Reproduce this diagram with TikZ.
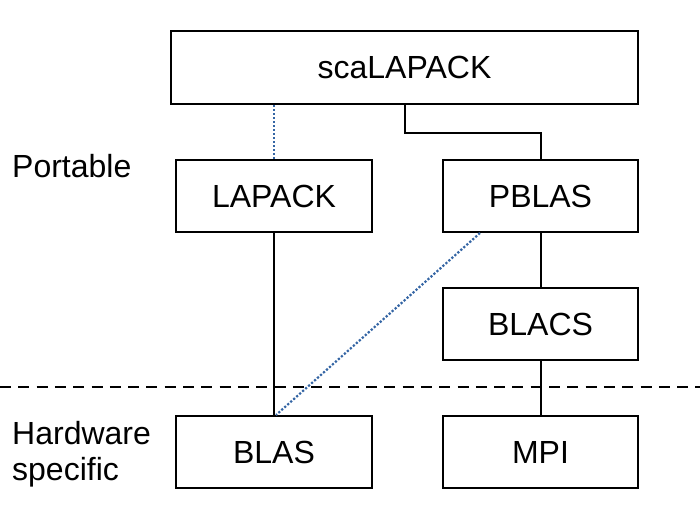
\documentclass[tikz,border=0pt]{standalone}
\usepackage{fontspec}
\setmainfont{Liberation Sans}
\definecolor{dotblue}{HTML}{3465A4}
\begin{document}
\begin{tikzpicture}[x=1pt,y=-1pt,
  box/.style={draw=black,line width=2pt,fill=white,font=\fontsize{32}{36}\selectfont,inner sep=0pt},
  lbl/.style={font=\fontsize{32}{36}\selectfont,inner sep=0pt,anchor=base west},
  solidline/.style={line width=2pt,black},
  dotline/.style={line width=2.2pt,dotblue,dash pattern=on 2.2pt off 1.8pt},
  sepline/.style={line width=2pt,black,dash pattern=on 11pt off 7.3pt}]
\useasboundingbox (0,0) rectangle (700,509);
\node[box,minimum width=467pt,minimum height=73pt] (sca) at (404.5,67.5) {scaLAPACK};
\node[box,minimum width=196pt,minimum height=72pt] (lapack) at (274,196) {LAPACK};
\node[box,minimum width=195pt,minimum height=72pt] (pblas) at (540.5,196) {PBLAS};
\node[box,minimum width=195pt,minimum height=72pt] (blacs) at (540.5,324) {BLACS};
\node[box,minimum width=196pt,minimum height=72pt] (blas) at (274,452) {BLAS};
\node[box,minimum width=195pt,minimum height=72pt] (mpi) at (540.5,452) {MPI};
\coordinate (sepL) at (0,387);
\coordinate (sepR) at (700,387);
\draw[sepline] (sepL) -- (sepR);
\node[lbl] (portable) at (12,177) {Portable};
\node[lbl] (hw1) at (12,444) {Hardware};
\node[lbl] (hw2) at (12,480) {specific};
\draw[dotline] (sca.south -| lapack.north) -- (lapack.north);
\draw[solidline] (sca.south) -- ++(0,28) -| (pblas.north);
\draw[solidline] (lapack.south) -- (blas.north);
\draw[dotline] ([xshift=38pt]pblas.south west) -- ([xshift=2pt]blas.north);
\draw[solidline] (pblas.south) -- (blacs.north);
\draw[solidline] (blacs.south) -- (mpi.north);
\end{tikzpicture}
\end{document}
